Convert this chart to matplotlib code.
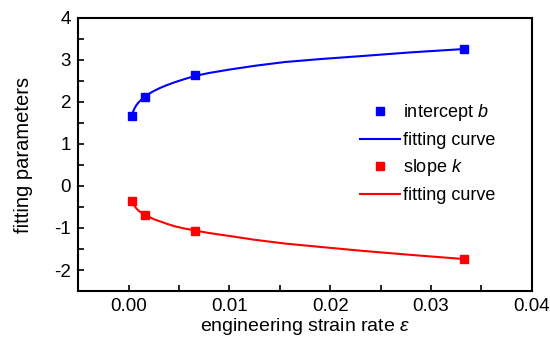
import matplotlib as mpl

mpl.use("Agg")
import matplotlib.pyplot as plt
from matplotlib.ticker import MultipleLocator, FormatStrFormatter

plt.rcParams["font.family"] = ["Liberation Sans", "DejaVu Sans"]
plt.rcParams["mathtext.fontset"] = "custom"
plt.rcParams["mathtext.it"] = "Liberation Sans:italic"

# measured points
rate = [0.0003, 0.0016, 0.0066, 0.0333]
intercept_b = [1.67, 2.12, 2.64, 3.26]
slope_k = [-0.36, -0.68, -1.06, -1.74]

# fitting curves
fit_x = [0.0003, 0.0004, 0.0006, 0.0008, 0.0010, 0.0013, 0.0016, 0.0020, 0.0025,
         0.0031, 0.0038, 0.0046, 0.0055, 0.0066, 0.0080, 0.0100, 0.0125, 0.0155,
         0.0190, 0.0230, 0.0280, 0.0333]
fit_b = [1.67, 1.74, 1.85, 1.93, 1.99, 2.06, 2.12, 2.19, 2.26,
         2.33, 2.40, 2.47, 2.54, 2.62, 2.69, 2.77, 2.86, 2.95,
         3.02, 3.09, 3.18, 3.26]
fit_k = [-0.36, -0.40, -0.48, -0.54, -0.59, -0.64, -0.68, -0.73, -0.79,
         -0.84, -0.90, -0.96, -1.01, -1.06, -1.12, -1.19, -1.28, -1.37,
         -1.45, -1.54, -1.64, -1.74]

fig = plt.figure(figsize=(5.5, 3.38), dpi=100)
ax = fig.add_axes([0.142, 0.139, 0.825, 0.808])

ax.plot(rate, intercept_b, "s", color="#0000ff", ms=6, ls="none", label="intercept $b$", zorder=3)
ax.plot(fit_x, fit_b, "-", color="#0000ff", lw=1.5, label="fitting curve")
ax.plot(rate, slope_k, "s", color="#ff0000", ms=6, ls="none", label="slope $k$", zorder=3)
ax.plot(fit_x, fit_k, "-", color="#ff0000", lw=1.5, label="fitting curve")

ax.set_xlim(-0.005, 0.04)
ax.set_ylim(-2.5, 4)
ax.xaxis.set_major_locator(MultipleLocator(0.01))
ax.xaxis.set_minor_locator(MultipleLocator(0.005))
ax.yaxis.set_major_locator(MultipleLocator(1))
ax.yaxis.set_minor_locator(MultipleLocator(0.5))
ax.xaxis.set_major_formatter(FormatStrFormatter("%.2f"))
ax.yaxis.set_major_formatter(FormatStrFormatter("%d"))
ax.tick_params(which="both", direction="in", top=False, right=False, width=1.2,
               length=4, labelsize=13.5, pad=5)
for s in ax.spines.values():
    s.set_linewidth(1.5)

ax.set_xlabel("engineering strain rate $\\varepsilon$", fontsize=14, labelpad=1)
ax.set_ylabel("fitting parameters", fontsize=14.5, labelpad=15)

ax.legend(loc="center left", bbox_to_anchor=(0.585, 0.505), frameon=False, fontsize=13,
          handlelength=2.2, handletextpad=0.2, labelspacing=0.47)

fig.savefig("out.png", dpi=100)
